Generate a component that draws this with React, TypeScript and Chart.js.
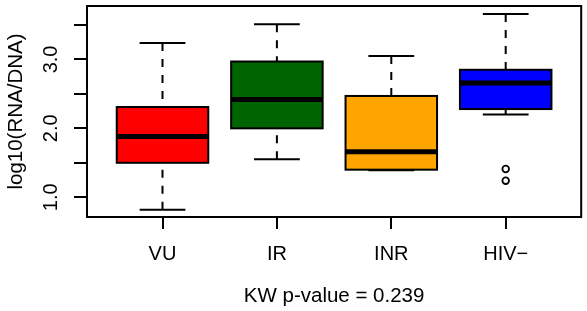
import React, { useEffect, useRef } from 'react';
import { Chart, registerables } from 'chart.js';

Chart.register(...registerables);

// ---- data ----
const categories = ['VU', 'IR', 'INR', 'HIV−'];
const lowerWhisker = [0.82, 1.55, 1.39, 2.2];
const q1 = [1.5, 2.0, 1.4, 2.28];
const medians = [1.88, 2.42, 1.66, 2.66];
const q3 = [2.31, 2.97, 2.47, 2.85];
const upperWhisker = [3.24, 3.51, 3.05, 3.66];
const boxColors = ['#FF0000', '#006400', '#FFA500', '#0000FF'];
const outlierGroup = [4, 4];
const outlierValues = [1.41, 1.24];
const yTickValues = [1.0, 1.5, 2.0, 2.5, 3.0, 3.5];
const yTickLabels = ['1.0', '', '2.0', '', '3.0', ''];
const xTitle = 'KW p-value = 0.239';
const yTitle = 'log10(RNA/DNA)';

const FONT = '"Liberation Sans", Arial, Helvetica, sans-serif';

const boxPlugin = {
  id: 'rBoxes',
  afterDatasetsDraw(chart: any) {
    const { ctx } = chart;
    const x = chart.scales.x;
    const y = chart.scales.y;
    const boxHalf = x.getPixelForValue(1.4) - x.getPixelForValue(1);
    const capHalf = x.getPixelForValue(1.2) - x.getPixelForValue(1);
    ctx.save();
    categories.forEach((_, i) => {
      const cx = x.getPixelForValue(i + 1);
      const pLo = y.getPixelForValue(lowerWhisker[i]);
      const pQ1 = y.getPixelForValue(q1[i]);
      const pMed = y.getPixelForValue(medians[i]);
      const pQ3 = y.getPixelForValue(q3[i]);
      const pUp = y.getPixelForValue(upperWhisker[i]);
      ctx.strokeStyle = '#000';
      ctx.lineWidth = 2;
      ctx.lineCap = 'butt';
      ctx.setLineDash([8, 8]);
      ctx.beginPath();
      ctx.moveTo(cx, pUp);
      ctx.lineTo(cx, pQ3);
      ctx.moveTo(cx, pLo);
      ctx.lineTo(cx, pQ1);
      ctx.stroke();
      ctx.setLineDash([]);
      ctx.beginPath();
      ctx.moveTo(cx - capHalf, pUp);
      ctx.lineTo(cx + capHalf, pUp);
      ctx.moveTo(cx - capHalf, pLo);
      ctx.lineTo(cx + capHalf, pLo);
      ctx.stroke();
      ctx.fillStyle = boxColors[i];
      ctx.fillRect(cx - boxHalf, pQ3, boxHalf * 2, pQ1 - pQ3);
      ctx.strokeRect(cx - boxHalf, pQ3, boxHalf * 2, pQ1 - pQ3);
      ctx.lineWidth = 5;
      ctx.beginPath();
      ctx.moveTo(cx - boxHalf, pMed);
      ctx.lineTo(cx + boxHalf, pMed);
      ctx.stroke();
    });
    ctx.restore();
  },
  afterDraw(chart: any) {
    const { ctx, chartArea } = chart;
    ctx.save();
    ctx.strokeStyle = '#000';
    ctx.lineWidth = 2;
    ctx.strokeRect(chartArea.left, chartArea.top, chartArea.right - chartArea.left, chartArea.bottom - chartArea.top);
    ctx.restore();
  },
};

export default function App() {
  const ref = useRef<HTMLCanvasElement | null>(null);
  useEffect(() => {
    document.body.style.margin = '0';
    const canvas = ref.current;
    if (!canvas) return;
    const chart = new Chart(canvas, {
      type: 'scatter',
      data: {
        datasets: [
          {
            data: outlierGroup.map((g, i) => ({ x: g, y: outlierValues[i] })),
            pointStyle: 'circle',
            pointRadius: 3.3,
            pointBorderWidth: 1.8,
            pointBorderColor: '#000',
            pointBackgroundColor: 'rgba(0,0,0,0)',
          },
        ],
      },
      options: {
        animation: false,
        responsive: false,
        devicePixelRatio: 1,
        layout: { padding: { top: 6, right: 2, left: 0, bottom: 0 } },
        plugins: { legend: { display: false }, tooltip: { enabled: false } },
        scales: {
          x: {
            type: 'linear',
            min: 0.34,
            max: 4.66,
            afterBuildTicks: (s: any) => {
              s.ticks = categories.map((_, i) => ({ value: i + 1 }));
            },
            afterFit: (s: any) => {
              s.height = 94;
              s.paddingLeft = 0;
              s.paddingRight = 0;
            },
            border: { display: false },
            grid: { drawOnChartArea: false, drawTicks: true, tickLength: 12, color: '#000', lineWidth: 2 },
            ticks: {
              autoSkip: false,
              maxRotation: 0,
              minRotation: 0,
              padding: 13,
              color: '#000',
              font: { family: FONT, size: 20 },
              callback: (v: any) => categories[Math.round(Number(v)) - 1] ?? '',
            },
            title: {
              display: true,
              text: xTitle,
              color: '#000',
              font: { family: FONT, size: 20.5 },
              padding: { top: 0, bottom: 2 },
            },
          },
          y: {
            type: 'linear',
            min: 0.713,
            max: 3.776,
            afterBuildTicks: (s: any) => {
              s.ticks = yTickValues.map((v) => ({ value: v }));
            },
            afterFit: (s: any) => {
              s.width = 87;
              s.paddingTop = 0;
              s.paddingBottom = 0;
            },
            border: { display: false },
            grid: { drawOnChartArea: false, drawTicks: true, tickLength: 13, color: '#000', lineWidth: 2 },
            ticks: {
              autoSkip: false,
              minRotation: 90,
              maxRotation: 90,
              crossAlign: 'center',
              padding: 8.5,
              color: '#000',
              font: { family: FONT, size: 20 },
              callback: (v: any) => {
                const idx = yTickValues.findIndex((t) => Math.abs(t - Number(v)) < 1e-6);
                return idx >= 0 ? yTickLabels[idx] : '';
              },
            },
            title: {
              display: true,
              text: yTitle,
              color: '#000',
              font: { family: FONT, size: 20.5 },
              padding: { top: 4, bottom: 0 },
            },
          },
        },
      },
      plugins: [boxPlugin],
    } as any);
    return () => chart.destroy();
  }, []);
  return <canvas ref={ref} width={587} height={311} style={{ display: 'block', width: 587, height: 311 }} />;
}
